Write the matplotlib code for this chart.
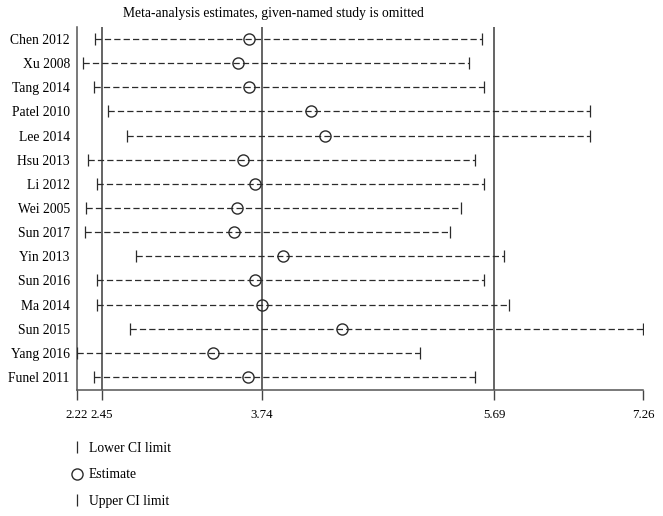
import numpy as np
import matplotlib
matplotlib.use("Agg")
import matplotlib.pyplot as plt
from matplotlib.lines import Line2D
from matplotlib.ticker import FixedLocator, NullLocator

plt.rcParams["font.family"] = ["Liberation Serif", "DejaVu Serif"]

# ---- data: leave-one-out estimates with 95% CI ---------------------------
studies = ["Chen 2012", "Xu 2008", "Tang 2014", "Patel 2010", "Lee 2014",
           "Hsu 2013", "Li 2012", "Wei 2005", "Sun 2017", "Yin 2013",
           "Sun 2016", "Ma 2014", "Sun 2015", "Yang 2016", "Funel 2011"]
lower = [2.39, 2.28, 2.38, 2.50, 2.65, 2.32, 2.41, 2.31, 2.30, 2.73,
         2.41, 2.41, 2.68, 2.22, 2.38]
estimate = [3.64, 3.55, 3.64, 4.15, 4.27, 3.59, 3.69, 3.54, 3.52, 3.92,
            3.69, 3.74, 4.41, 3.35, 3.63]
upper = [5.59, 5.48, 5.60, 6.70, 6.70, 5.53, 5.60, 5.41, 5.32, 5.79,
         5.60, 5.85, 7.26, 5.07, 5.53]

overall = [2.45, 3.74, 5.69]            # pooled lower / estimate / upper
xticks = [2.22, 2.45, 3.74, 5.69, 7.26]

# the original axis is not evenly spaced between its labels; map the
# label values onto their spacing in the source picture (piecewise linear)
_kv = np.array([0.0, 2.22, 2.45, 3.74, 5.69, 7.26, 20.0])
_kp = np.array([-241.3, 0.0, 25.0, 185.0, 417.6, 566.6, 1956.0])


def fwd(v):
    return np.interp(v, _kv, _kp)


def inv(p):
    return np.interp(p, _kp, _kv)


W, H = 663, 516
fig = plt.figure(figsize=(W / 100, H / 100), dpi=100)
ax = fig.add_axes([76.7 / W, (H - 390) / H, (643.3 - 76.7) / W, 363 / H])
ax.set_xscale("function", functions=(fwd, inv))

ink = "#2b2b2b"
y = np.arange(len(studies))
for yi, lo, est, hi in zip(y, lower, estimate, upper):
    ax.plot([lo, hi], [yi, yi], ls=(0, (5, 2.5)), lw=0.9, color=ink, zorder=2)
    ax.plot([lo], [yi], marker="|", ms=8, mew=0.9, color=ink, zorder=3)
    ax.plot([hi], [yi], marker="|", ms=8, mew=0.9, color=ink, zorder=3)
    ax.plot([est], [yi], marker="o", ms=8, mfc="none", mew=1.0,
            color=ink, ls="none", zorder=4)

for v in overall:
    ax.axvline(v, color="#3a3a3a", lw=1.1, zorder=1)

ax.set_xlim(xticks[0], xticks[-1])
ax.set_ylim(len(studies) - 0.46, -0.5)
ax.set_yticks(y)
ax.set_yticklabels(studies, fontsize=9.8)
ax.tick_params(axis="y", length=0, pad=5)
ax.xaxis.set_major_locator(FixedLocator(xticks))
ax.xaxis.set_minor_locator(NullLocator())
ax.set_xticklabels([f"{t:.2f}" for t in xticks], fontsize=9.3)
ax.tick_params(axis="x", length=7, width=1.0, color="#444444", pad=7)
for s in ("top", "right"):
    ax.spines[s].set_visible(False)
for s in ("left", "bottom"):
    ax.spines[s].set_color("#555555")
    ax.spines[s].set_linewidth(1.1)

fig.text(273 / W, 1 - 14 / H,
         "Meta-analysis estimates, given-named study is omitted",
         ha="center", va="center", fontsize=9.8)

handles = [
    Line2D([], [], marker="|", ms=8, mew=0.9, color=ink, ls="none"),
    Line2D([], [], marker="o", ms=8, mfc="none", mew=1.0, color=ink, ls="none"),
    Line2D([], [], marker="|", ms=8, mew=0.9, color=ink, ls="none"),
]
fig.legend(handles, ["Lower CI limit", "Estimate", "Upper CI limit"],
           loc="upper left", bbox_to_anchor=(63 / W, 1 - 435 / H),
           frameon=False, fontsize=9.8, handlelength=1.0, handletextpad=0.4,
           labelspacing=1.0, borderpad=0)

fig.savefig("out.png", dpi=100)
